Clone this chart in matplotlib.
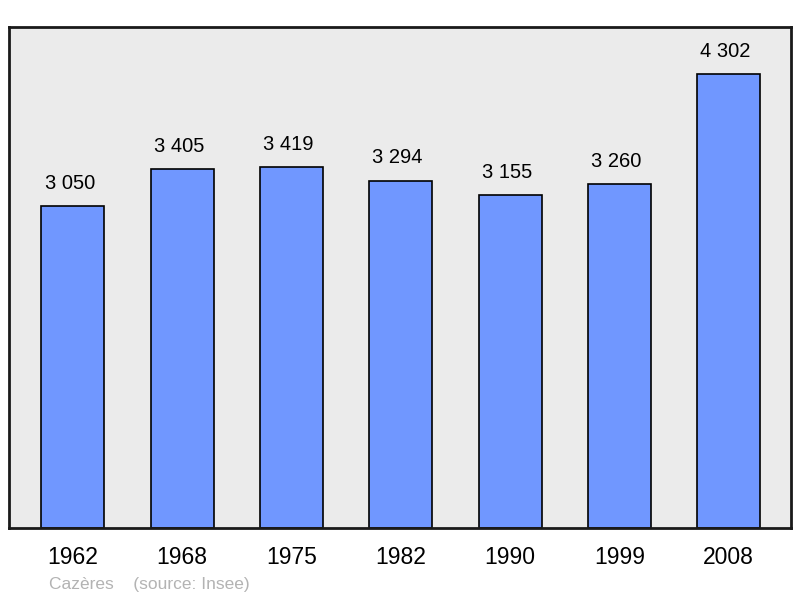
import matplotlib
matplotlib.use('Agg')
import matplotlib.pyplot as plt

years = ['1962', '1968', '1975', '1982', '1990', '1999', '2008']
population = [3050, 3405, 3419, 3294, 3155, 3260, 4302]
value_labels = ['3 050', '3 405', '3 419', '3 294', '3 155', '3 260', '4 302']

plt.rcParams['font.family'] = ['Liberation Sans', 'DejaVu Sans']

fig = plt.figure(figsize=(8, 5.98), dpi=100)
ax = fig.add_axes([9 / 800, 70 / 598, 782 / 800, 501 / 598])
ax.set_facecolor('#ebebeb')

x = list(range(len(years)))
ax.bar(x, population, width=0.576, color='#7097ff', edgecolor='black', linewidth=1.2, zorder=2)
for xi, v, lab in zip(x, population, value_labels):
    ax.text(xi - 0.03, v + 125, lab, ha='center', va='bottom', fontsize=14.5, color='black')

ax.set_xlim(-0.585, 6.57)
ax.set_ylim(0, 4750)
ax.set_xticks(x)
ax.set_xticklabels(years, fontsize=16.5)
ax.tick_params(axis='x', length=0, pad=13)
ax.set_yticks([])
for s in ax.spines.values():
    s.set_linewidth(2)
    s.set_color('#1a1a1a')

fig.text(49 / 800, 1 - 585 / 598, 'Cazères    (source: Insee)', fontsize=12.5,
         color='#b3b3b3', ha='left', va='center')

fig.savefig('out.png', dpi=100)
